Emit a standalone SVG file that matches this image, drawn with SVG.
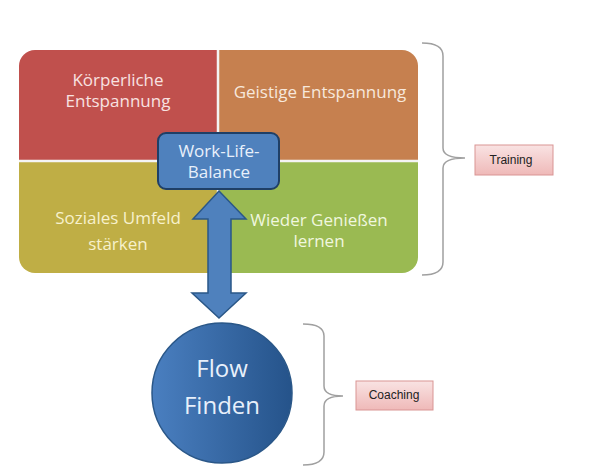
<svg xmlns="http://www.w3.org/2000/svg" width="589" height="475" viewBox="0 0 589 475">
<defs>
<style>
.q{font-family:"Open Sans","Noto Sans",sans-serif;font-size:17px;text-anchor:middle}
.wl{font-family:"Open Sans","Noto Sans",sans-serif;font-size:17px;fill:#e8f0fb;text-anchor:middle}
.lb{font-family:"Liberation Sans",Arial,sans-serif;font-size:12px;fill:#222;text-anchor:middle}
.brace{fill:none;stroke:#a0a0a0;stroke-width:1.5}
.pink{fill:url(#pk);stroke:#d99594;stroke-width:1}
</style>
<linearGradient id="pk" x1="0" y1="0" x2="0" y2="1">
<stop offset="0" stop-color="#f9e3e3"/><stop offset="1" stop-color="#efb9b8"/>
</linearGradient>
<linearGradient id="cg" x1="0" y1="0" x2="1" y2="0">
<stop offset="0" stop-color="#4a7fc0"/><stop offset="1" stop-color="#25538a"/>
</linearGradient>
<clipPath id="rc"><rect x="19" y="50" width="399" height="223" rx="16"/></clipPath>
</defs>
<g id="quadrants" clip-path="url(#rc)">
<rect x="19" y="50" width="199" height="111" fill="#c0504d"/>
<rect x="218" y="50" width="200" height="111" fill="#c6804f"/>
<rect x="19" y="161" width="199" height="112" fill="#bfae45"/>
<rect x="218" y="161" width="200" height="112" fill="#9aba52"/>
<line x1="218" y1="50" x2="218" y2="273" stroke="#f4f4f4" stroke-width="2.5"/>
<line x1="19" y1="161" x2="418" y2="161" stroke="#f4f4f4" stroke-width="2.5"/>
</g>
<g id="n-koerper"><text class="q" x="118" y="86" fill="#f8e2e1">Körperliche</text><text class="q" x="118" y="107" fill="#f8e2e1">Entspannung</text></g>
<g id="n-geistig"><text class="q" x="320" y="98" fill="#f7e8dc">Geistige Entspannung</text></g>
<g id="n-sozial"><text class="q" x="118" y="224" fill="#f7f1cc">Soziales Umfeld</text><text class="q" x="118" y="250" fill="#f7f1cc">stärken</text></g>
<g id="n-geniessen"><text class="q" x="319" y="226" fill="#f0f7df">Wieder Genießen</text><text class="q" x="319" y="247" fill="#f0f7df">lernen</text></g>
<g id="connectors">
<path d="M219,191 L246,219 L231,219 L231,293 L246,293 L219,318 L192,293 L208,293 L208,219 L193,219 Z" fill="#4f81bd" stroke="#2a5788" stroke-width="1.5" stroke-linejoin="miter"/>
<path class="brace" d="M422,43 Q443,43 443,56 L443,148 Q443,158 465,158 Q443,158 443,168 L443,262 Q443,275 422,275"/>
<path class="brace" d="M303,324 Q324,324 324,336 L324,386 Q324,396 343,396 Q324,396 324,406 L324,452 Q324,465 303,465"/>
</g>
<g id="n-wlb">
<rect x="158" y="133" width="121" height="56" rx="8" fill="#4f81bd" stroke="#1f3f66" stroke-width="2"/>
<text class="wl" x="219" y="157">Work-Life-</text>
<text class="wl" x="219" y="178">Balance</text>
</g>
<g id="n-flow">
<circle cx="222" cy="393" r="70" fill="url(#cg)" stroke="#2a5788" stroke-width="1.5"/>
<text x="222" y="377" font-family="Open Sans,Noto Sans,sans-serif" font-size="24" fill="#e8f0fb" text-anchor="middle">Flow</text>
<text x="222" y="414" font-family="Open Sans,Noto Sans,sans-serif" font-size="24" fill="#e8f0fb" text-anchor="middle">Finden</text>
</g>
<g id="n-training"><rect class="pink" x="475" y="145" width="78" height="30"/><text class="lb" x="511" y="164">Training</text></g>
<g id="n-coaching"><rect class="pink" x="356" y="381" width="77" height="29"/><text class="lb" x="394" y="399">Coaching</text></g>
</svg>
